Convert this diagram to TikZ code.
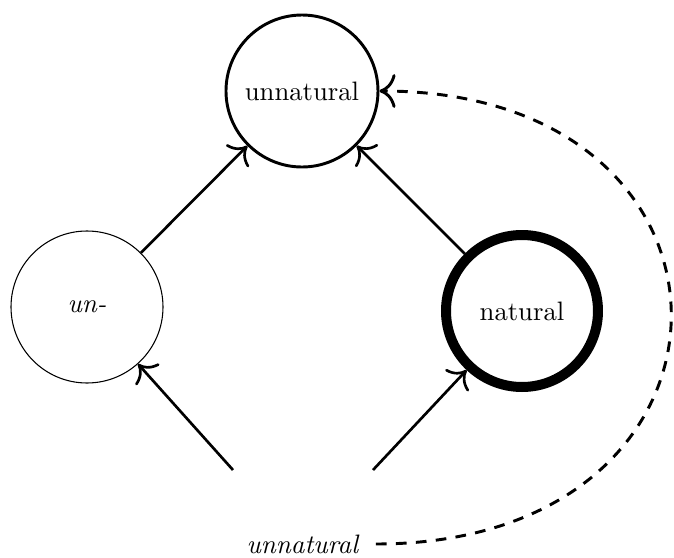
\documentclass[tikz,border=0pt]{standalone}
\usepackage{tikz}
\usetikzlibrary{arrows.meta, positioning}

\begin{document}
\begin{tikzpicture}  [
        x = 0.375pt, y = -0.375pt,
        >={Computer Modern Rightarrow[scale=1.5]},
        morph/.style = {circle, draw, minimum size = 57pt, inner sep = 0pt},
        arr/.style = {->, line width = 1pt},
        link/.style = {->, line width = 1.1pt, dash pattern = on 4pt off 3.5pt}
    ]
    \useasboundingbox (0,0) rectangle (674,558);

    \node[morph, line width = 1.1pt]   (top) at (302,91)  {unnatural};
    \node[morph, line width = 0.4pt]   (un)  at (87,307)  {\textit{un-}};
    \node[morph, line width = 3.75pt]  (nat) at (522,311) {natural};
    \node[inner sep = 1pt] (word) at (303,544) {\textit{unnatural}};

    \coordinate (bl) at (233,470);
    \coordinate (br) at (373,470);

    \draw[arr] (bl) -- (un);
    \draw[arr] (br) -- (nat);
    \draw[arr] (un) -- (top);
    \draw[arr] (nat) -- (top);
%    \draw[arr] (word) -- (top);
    \draw[link] ([xshift=5pt]word.east) .. controls +(391,0) and +(391,0) .. (top.east);

\end{tikzpicture}
\end{document}
